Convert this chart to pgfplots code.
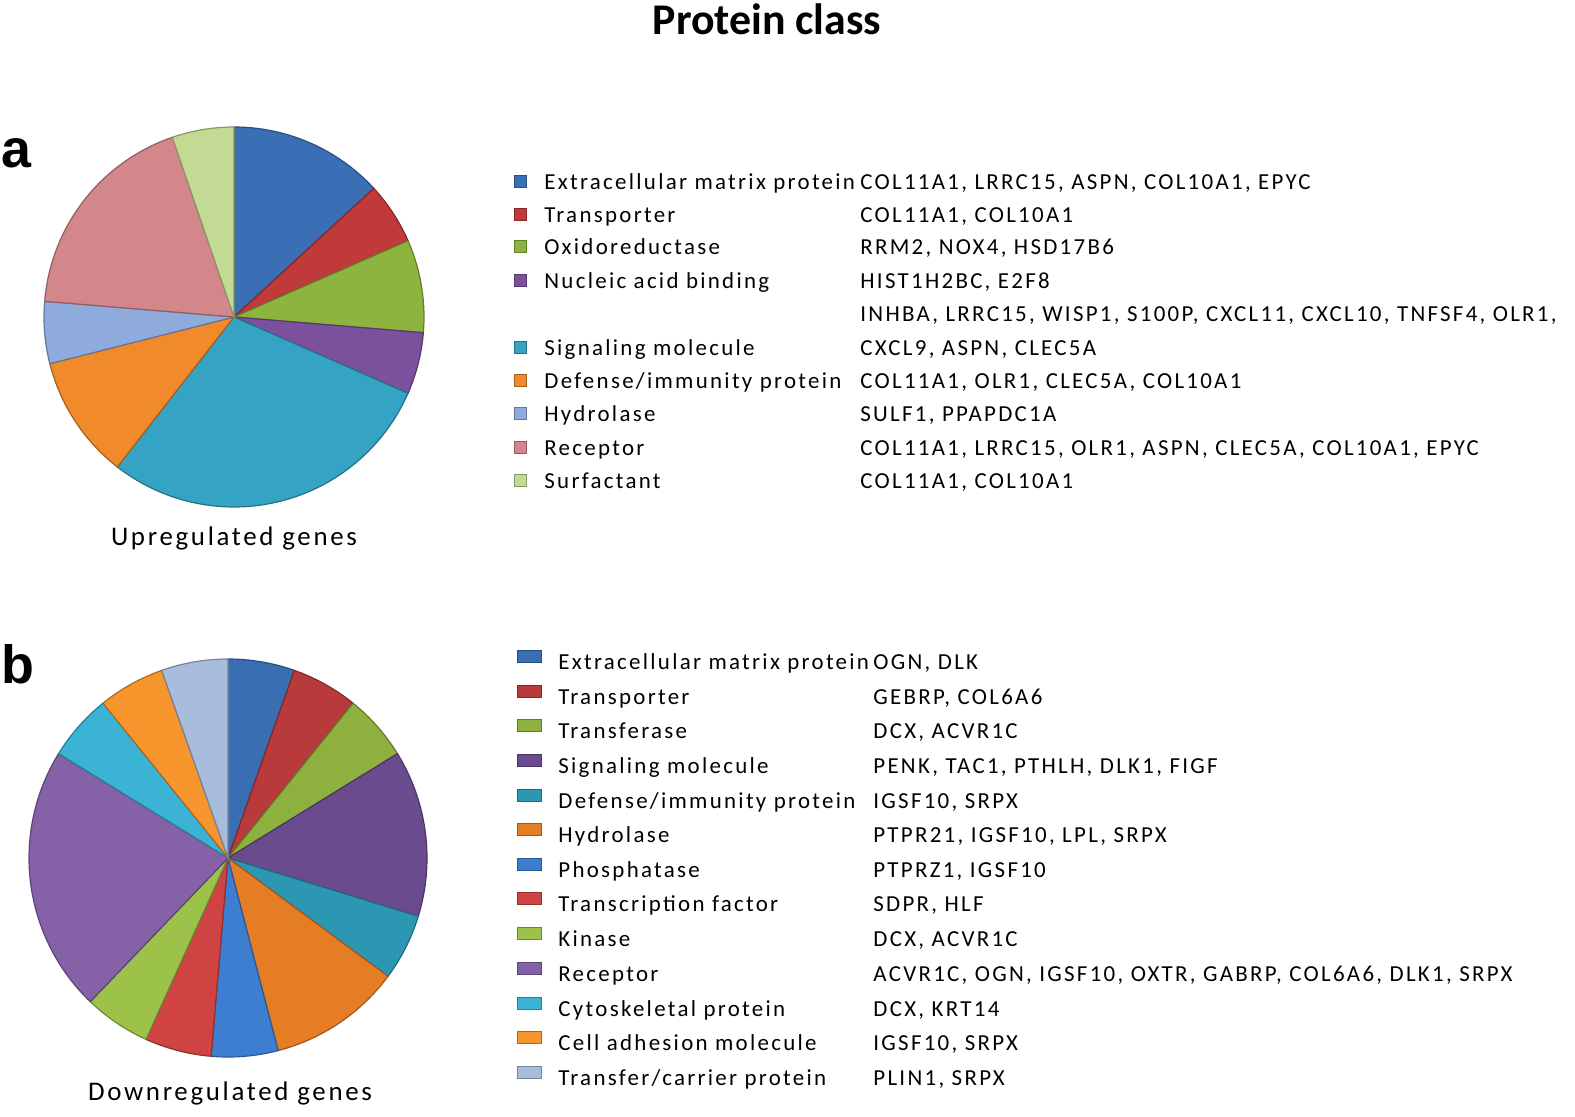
\documentclass[border=0pt]{standalone}
\usepackage{pgfplots}
\usepackage{pgfplotstable}
\pgfplotsset{compat=1.18}
\usepackage{fontspec}
\setmainfont{Carlito}
\newfontfamily\spaced[LetterSpace=10]{Carlito}
\newfontfamily\arialfam{Liberation Sans}

\definecolor{up0}{HTML}{3A6FB5}
\definecolor{up1}{HTML}{C0393B}
\definecolor{up2}{HTML}{8DB43E}
\definecolor{up3}{HTML}{7B519D}
\definecolor{up4}{HTML}{35A3C4}
\definecolor{up5}{HTML}{F08A2A}
\definecolor{up6}{HTML}{8FAADC}
\definecolor{up7}{HTML}{D4878A}
\definecolor{up8}{HTML}{C3DA95}

\definecolor{dn0}{HTML}{3A6EB2}
\definecolor{dn1}{HTML}{B83A3A}
\definecolor{dn2}{HTML}{8DB03F}
\definecolor{dn3}{HTML}{6A4B8E}
\definecolor{dn4}{HTML}{2C97B3}
\definecolor{dn5}{HTML}{E57D25}
\definecolor{dn6}{HTML}{3D7ED0}
\definecolor{dn7}{HTML}{D04343}
\definecolor{dn8}{HTML}{9CC24A}
\definecolor{dn9}{HTML}{8561A8}
\definecolor{dn10}{HTML}{3AB3D5}
\definecolor{dn11}{HTML}{F8962E}
\definecolor{dn12}{HTML}{A8BCDD}

% number of genes per protein class
\pgfplotstableread{
cat count
ECM 5
Transporter 2
Oxidoreductase 3
Nucleic 2
Signaling 11
Defense 4
Hydrolase 2
Receptor 7
Surfactant 2
}\uptab

\pgfplotstableread{
cat count
ECM 2
Transporter 2
Transferase 2
Signaling 5
Defense 2
Hydrolase 4
Phosphatase 2
Transcription 2
Kinase 2
Receptor 8
Cytoskeletal 2
Adhesion 2
Carrier 2
}\dntab

% #1 table, #2 cx, #3 cy, #4 r, #5 colour prefix
\newcommand\drawpie[5]{%
  \pgfplotstablegetrowsof{#1}%
  \pgfmathtruncatemacro\nlast{\pgfplotsretval-1}%
  \xdef\tot{0}%
  \pgfplotsforeachungrouped \i in {0,...,\nlast}{%
    \pgfplotstablegetelem{\i}{count}\of{#1}%
    \pgfmathsetmacro\tmpv{\tot+\pgfplotsretval}\xdef\tot{\tmpv}}%
  \xdef\cum{0}%
  \pgfplotsforeachungrouped \i in {0,...,\nlast}{%
    \pgfplotstablegetelem{\i}{count}\of{#1}%
    \let\cnt\pgfplotsretval
    \pgfmathsetmacro\sa{360*\cum/\tot}%
    \pgfmathsetmacro\ea{360*(\cum+\cnt)/\tot}%
    \edef\tmp{\noexpand\addplot[draw=#5\i!70!black, line width=0.6pt, fill=#5\i, domain=\sa:\ea, samples=60]
      ({#2+#4*sin(x)},{#3-#4*cos(x)}) -- (axis cs:#2,#3) -- cycle;}%
    \tmp
    \pgfmathsetmacro\tmpv{\cum+\cnt}\xdef\cum{\tmpv}}%
}

\newcommand\legfont{\spaced\fontsize{11.5}{13}\selectfont}
% #1 y, #2 colour, #3 class, #4 genes, #5 marker x0, #6 marker x1, #7 marker dy0, #8 dy1, #9 text x
\newcommand\legrow[9]{%
  \edef\doit{%
  \noexpand\fill[#2, draw=#2!70!black, line width=0.3pt] (axis cs:#5,#1+#7) rectangle (axis cs:#6,#1+#8);
  \noexpand\node[anchor=base west, font=\noexpand\legfont, inner sep=0pt] at (axis cs:#9,#1+8) {#3};
  \noexpand\node[anchor=base west, font=\noexpand\legfont, inner sep=0pt] at (axis cs:\genex,#1+8) {#4};}%
  \doit}
\newcommand\rowa[4]{\def\genex{860}\legrow{#1}{#2}{#3}{#4}{514}{526}{-6}{6}{544}}
\newcommand\rowb[4]{\def\genex{873}\legrow{#1}{#2}{#3}{#4}{517}{541}{-11}{1}{558}}

\begin{document}
\begin{tikzpicture}
\begin{axis}[scale only axis, width=787.5bp, height=558.5bp,
  xmin=0, xmax=1575, ymin=0, ymax=1117, y dir=reverse,
  hide axis, clip=false]
\path (axis cs:0,0) rectangle (axis cs:1575,1117);

\drawpie{\uptab}{234}{317}{190}{up}
\drawpie{\dntab}{228}{858}{199}{dn}

\node[font=\fontsize{22}{24}\selectfont\bfseries, anchor=base, inner sep=0pt] at (axis cs:767,34) {Protein class};
\node[font=\arialfam\fontsize{27}{29}\selectfont\bfseries, anchor=base west, inner sep=0pt] at (axis cs:1,167) {a};
\node[font=\arialfam\fontsize{27}{29}\selectfont\bfseries, anchor=base west, inner sep=0pt] at (axis cs:1,683) {b};
\node[font=\spaced\fontsize{13.5}{15}\selectfont, anchor=base, inner sep=0pt] at (axis cs:234,545) {Upregulated genes};
\node[font=\spaced\fontsize{13.5}{15}\selectfont, anchor=base, inner sep=0pt] at (axis cs:230,1100) {Downregulated genes};

% legend a
\rowa{181}{up0}{Extracellular matrix protein}{COL11A1, LRRC15, ASPN, COL10A1, EPYC}
\rowa{214}{up1}{Transporter}{COL11A1, COL10A1}
\rowa{246}{up2}{Oxidoreductase}{RRM2, NOX4, HSD17B6}
\rowa{280}{up3}{Nucleic acid binding}{HIST1H2BC, E2F8}
\rowa{347}{up4}{Signaling molecule}{CXCL9, ASPN, CLEC5A}
\rowa{380}{up5}{Defense/immunity protein}{COL11A1, OLR1, CLEC5A, COL10A1}
\rowa{413}{up6}{Hydrolase}{SULF1, PPAPDC1A}
\rowa{447}{up7}{Receptor}{COL11A1, LRRC15, OLR1, ASPN, CLEC5A, COL10A1, EPYC}
\rowa{480}{up8}{Surfactant}{COL11A1, COL10A1}
\node[anchor=base west, font=\legfont, inner sep=0pt] at (axis cs:860,321) {INHBA, LRRC15, WISP1, S100P, CXCL11, CXCL10, TNFSF4, OLR1,};

% legend b
\rowb{661}{dn0}{Extracellular matrix protein}{OGN, DLK}
\rowb{696}{dn1}{Transporter}{GEBRP, COL6A6}
\rowb{730}{dn2}{Transferase}{DCX, ACVR1C}
\rowb{765}{dn3}{Signaling molecule}{PENK, TAC1, PTHLH, DLK1, FIGF}
\rowb{800}{dn4}{Defense/immunity protein}{IGSF10, SRPX}
\rowb{834}{dn5}{Hydrolase}{PTPR21, IGSF10, LPL, SRPX}
\rowb{869}{dn6}{Phosphatase}{PTPRZ1, IGSF10}
\rowb{903}{dn7}{Transcription factor}{SDPR, HLF}
\rowb{938}{dn8}{Kinase}{DCX, ACVR1C}
\rowb{973}{dn9}{Receptor}{ACVR1C, OGN, IGSF10, OXTR, GABRP, COL6A6, DLK1, SRPX}
\rowb{1008}{dn10}{Cytoskeletal protein}{DCX, KRT14}
\rowb{1042}{dn11}{Cell adhesion molecule}{IGSF10, SRPX}
\rowb{1077}{dn12}{Transfer/carrier protein}{PLIN1, SRPX}
\end{axis}
\end{tikzpicture}
\end{document}
